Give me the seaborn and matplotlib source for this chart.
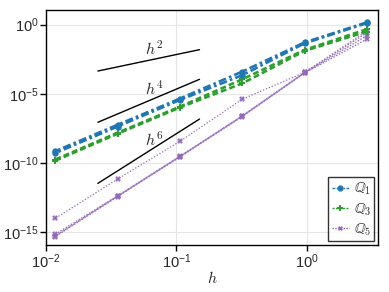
import numpy as np
import pandas as pd
import matplotlib
matplotlib.use("Agg")
import matplotlib.pyplot as plt
import matplotlib.ticker as mticker
from matplotlib.lines import Line2D
import seaborn as sns

# ---- data ----
h = [2.87, 0.957, 0.319, 0.106, 0.0354, 0.0118]

q1_a = [1.48, 5.2e-2, 4.0e-4, 4.4e-6, 5.6e-8, 6.9e-10]
q1_b = [1.30, 4.5e-2, 2.2e-4, 3.5e-6, 4.2e-8, 5.0e-10]

q3_a = [0.47, 1.5e-2, 1.1e-4, 1.15e-6, 1.5e-8, 1.7e-10]
q3_b = [0.32, 1.26e-2, 5.6e-5, 1.0e-6, 1.26e-8, 1.4e-10]

q5_up = [0.35, 3.5e-4, 4.0e-6, 3.5e-9, 6.6e-12, 9.3e-15]
q5_a = [0.26, 3.5e-4, 2.5e-7, 2.9e-10, 4.0e-13, 6.5e-16]
q5_b = [0.16, 3.3e-4, 2.4e-7, 2.75e-10, 3.8e-13, 5.0e-16]
q5_c = [0.09, 3.2e-4, 2.2e-7, 2.6e-10, 3.5e-13, 4.5e-16]

ref_h = [0.025, 0.15]
ref_h2 = [4.4e-4, 1.55e-2]
ref_h4 = [8.5e-8, 1.1e-4]
ref_h6 = [3.2e-12, 1.45e-7]
ref_labels = ["$h^2$", "$h^4$", "$h^6$"]
ref_label_pos = [(0.067, 2.0e-2), (0.067, 2.5e-5), (0.067, 4.5e-9)]

legend_labels = [r"$\mathbb{Q}_1$", r"$\mathbb{Q}_3$", r"$\mathbb{Q}_5$"]

# ---- style ----
sns.set_theme(style="white")
plt.rcParams["font.family"] = ["Liberation Sans", "DejaVu Sans"]
plt.rcParams["mathtext.fontset"] = "cm"

blue = "#1f77b4"
green = "#2ca02c"
purple = "#9467bd"

fig = plt.figure(figsize=(3.89, 2.92), dpi=100)
ax = fig.add_axes([0.118, 0.161, 0.854, 0.805])

def draw(y, color, ls, marker, lw, ms, mew=0.0):
    df = pd.DataFrame({"h": h, "err": y})
    sns.lineplot(data=df, x="h", y="err", ax=ax, color=color, linestyle=ls,
                 marker=marker, linewidth=lw, markersize=ms,
                 markeredgewidth=mew, markeredgecolor=color, sort=False)

for y in (q5_a, q5_b, q5_c):
    draw(y, purple, (0, (1, 1.2)), "X", 1.0, 4)
draw(q5_up, purple, (0, (1, 1.5)), "X", 0.9, 4)
for y in (q3_a, q3_b):
    draw(y, green, (0, (2.2, 1.2)), "P", 1.9, 5)
for y in (q1_a, q1_b):
    draw(y, blue, (0, (3, 1.2, 1, 1.2)), "o", 1.9, 4.6)

for yy in (ref_h2, ref_h4, ref_h6):
    sns.lineplot(x=ref_h, y=yy, ax=ax, color="black", linewidth=1.0)
for lab, (px, py) in zip(ref_labels, ref_label_pos):
    ax.text(px, py, lab, ha="center", va="center", fontsize=11.5)

ax.set_xscale("log")
ax.set_yscale("log")
ax.set_xlim(1e-2, 10 ** 0.544)
ax.set_ylim(10 ** -15.96, 10 ** 1.07)
ax.xaxis.set_major_locator(mticker.FixedLocator([1e-2, 1e-1, 1e0]))
ax.yaxis.set_major_locator(mticker.FixedLocator([1e-15, 1e-10, 1e-5, 1e0]))
ax.xaxis.set_minor_locator(mticker.NullLocator())
ax.yaxis.set_minor_locator(mticker.NullLocator())
ax.xaxis.set_major_formatter(mticker.LogFormatterSciNotation())
ax.yaxis.set_major_formatter(mticker.LogFormatterSciNotation())
ax.tick_params(axis="both", which="major", direction="out", length=4, width=1,
               labelsize=10.5, color="black", pad=1.5, bottom=True, left=True)
ax.grid(True, color="#e6e6e6", linewidth=0.8)
for s in ax.spines.values():
    s.set_color("black")
    s.set_linewidth(1.0)
ax.set_xlabel("$h$", fontsize=11.5, labelpad=-1)
ax.set_ylabel("")

handles = [
    Line2D([], [], color=blue, linestyle=(0, (2, 1, 1, 1)), marker="o", lw=1.0, ms=3.5),
    Line2D([], [], color=green, linestyle=(0, (1.5, 1)), marker="P", lw=1.0, ms=4, mew=0),
    Line2D([], [], color=purple, linestyle=(0, (1, 1)), marker="X", lw=1.0, ms=3.5, mew=0),
]
leg = ax.legend(handles, legend_labels, loc="lower right", fontsize=10.5,
                frameon=True, fancybox=False, edgecolor="black",
                handlelength=1.2, handletextpad=0.3, borderpad=0.25,
                labelspacing=0.25, borderaxespad=0.25)
leg.get_frame().set_linewidth(1.0)

fig.savefig("out.png", dpi=100)
